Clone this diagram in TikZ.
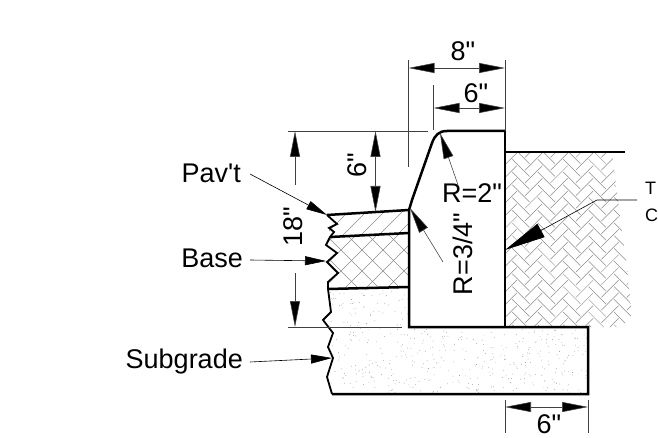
\documentclass[tikz,border=0pt]{standalone}
\usepackage{fontspec}
\setmainfont{Liberation Sans}[Ligatures=TeXOff]
\usetikzlibrary{arrows.meta, positioning, calc}

\tikzset{
  wall/.style={line width=2.5pt, line join=miter},
  thinline/.style={line width=0.55pt, black!75},
  hatchline/.style={line width=0.5pt, black!45},
  dimarrow/.style={thinline, -{Triangle[length=26pt,width=10pt,fill=black]}},
  dimboth/.style={thinline, {Triangle[length=26pt,width=10pt,fill=black]}-{Triangle[length=26pt,width=10pt,fill=black]}},
  leader/.style={line width=0.6pt, -{Triangle[length=21pt,width=9pt,fill=black]}},
  biglabel/.style={inner sep=0pt, font=\fontsize{27}{31}\selectfont},
  smalllabel/.style={inner sep=0pt, anchor=west, font=\fontsize{18}{22}\selectfont}
}

\begin{document}
\begin{tikzpicture}[x=1pt,y=-1pt]
  \useasboundingbox (0,0) rectangle (658,438);

  % curb
  \coordinate (curbtop) at (505,131);
  \coordinate (curbflat) at (447,131);
  \coordinate (curbbend) at (432,143);
  \coordinate (curbtoe) at (409,210);
  \coordinate (curbbase) at (409,327);
  \coordinate (curbright) at (505,327);
  % footing
  \coordinate (footright) at (588,327);
  \coordinate (footlow) at (588,394);
  \coordinate (footleft) at (332,394);
  % ground behind curb
  \coordinate (groundleft) at (505,152);
  \coordinate (groundright) at (625,152);
  % layers
  \coordinate (pavleft) at (327,215);
  \coordinate (pavlow) at (330,237);
  \coordinate (pavlowr) at (409,233);
  \coordinate (baseleft) at (328,289);
  \coordinate (baseright) at (409,287);

  % herringbone soil
  \begin{scope}
    \clip (groundleft) -- (612,152) -- (618,200) -- (626,260) -- (632,315) -- (622,327) -- (curbright) -- cycle;
    \begin{scope}[shift={(505,152)}, rotate=45, x=9pt, y=9pt]
      \foreach \a in {-20,...,20}
        \foreach \b in {-8,...,8}
          \draw[hatchline] ({\a+3*\b-0.85},{\a-\b}) -- ++(2.7,0)
            ({\a+3*\b+2},{\a-\b-1.85}) -- ++(0,2.7);
    \end{scope}
  \end{scope}

  % pavement hatch
  \begin{scope}
    \clip (pavleft) -- (curbtoe) -- (pavlowr) -- (pavlow) -- cycle;
    \foreach \i in {0,...,7}
      \draw[hatchline] ({300+18*\i},260) -- ++(60,-60);
  \end{scope}

  % base hatch
  \begin{scope}
    \clip (pavlow) -- (pavlowr) -- (baseright) -- (baseleft) -- (328,282) -- (338,273) -- (327,262) -- (337,253) -- (326,245) -- cycle;
    \foreach \i in {0,...,8} {
      \draw[hatchline] ({270+21*\i},300) -- ++(70,-70);
      \draw[hatchline] ({300+21*\i},230) -- ++(70,70);
    }
  \end{scope}

  % subgrade stipple
  \begin{scope}
    \clip (baseleft) -- (baseright) -- (curbbase) -- (footright) -- (footlow) -- (footleft) -- (327,377) -- (333,358) -- (328,347) -- (333,333) -- (323,320) -- (331,312) -- cycle;
    \pgfmathsetseed{4711}
    \foreach \i in {1,...,620} {
      \pgfmathsetmacro{\dotx}{325+265*rnd}
      \pgfmathsetmacro{\doty}{288+107*rnd}
      \fill[black!55] (\dotx,\doty) circle (0.35pt);
    }
  \end{scope}

  % thick outlines
  \draw[wall] (curbtop) -- (curbflat) .. controls (439,131) and (435,135) .. (curbbend) -- (412,200) -- (curbtoe) -- (curbbase) -- (footright) -- (footlow) -- (footleft);
  \draw[wall] (curbtop) -- (curbright);
  \draw[wall] (groundleft) -- (groundright);
  \draw[wall] (pavleft) -- (curbtoe);
  \draw[wall] (pavlow) -- (pavlowr);
  \draw[wall] (baseleft) -- (baseright);
  \draw[line width=1.8pt] (pavleft) -- (337,224) -- (329,228) -- (334,232) -- (pavlow) -- (326,245) -- (337,253) -- (327,262) -- (338,273) -- (328,282) -- (baseleft) -- (331,312) -- (323,320) -- (333,333) -- (328,347) -- (333,358) -- (327,377) -- (footleft);

  % extension lines
  \coordinate (eightl) at (408.5,68);
  \coordinate (eightr) at (505,68);
  \coordinate (sixl) at (433.5,108);
  \coordinate (sixr) at (505,108);
  \coordinate (toplevel) at (375.5,131);
  \coordinate (paveline) at (375.5,212);
  \coordinate (eighttop) at (408.5,60);
  \coordinate (eightlow) at (408.5,167);
  \coordinate (righttop) at (505,60);
  \coordinate (sixtop) at (433.5,85);
  \coordinate (sixlow) at (433.5,130);
  \draw[thinline] (eighttop) -- (eightlow);
  \draw[thinline] (righttop) -- (curbtop);
  \draw[thinline] (sixtop) -- (sixlow);
  \draw[thinline] (288,131) -- (428,131);
  \draw[thinline] (288,327) -- (402,327);

  % dimensions
  \draw[dimboth] (eightl) -- (eightr);
  \draw[dimboth] (sixl) -- (sixr);
  \draw[dimboth] (toplevel) -- (paveline);
  \coordinate (eightnup) at (295,131);
  \coordinate (eightnuplo) at (295,185);
  \coordinate (eightnlo) at (295,327);
  \coordinate (eightnloup) at (295,273);
  \draw[dimarrow] (eightnuplo) -- (eightnup);
  \draw[dimarrow] (eightnloup) -- (eightnlo);
  \coordinate (footdiml) at (505,407);
  \coordinate (footdimr) at (588,407);
  \draw[thinline] (505,400) -- (505,433);
  \draw[thinline] (588,400) -- (588,433);
  \draw[dimboth] (footdiml) -- (footdimr);

  \node[biglabel] (eight) at (463,51) {8"};
  \node[biglabel] (sixtoplabel) at (476,93) {6"};
  \node[biglabel, rotate=90] (sixside) at (357,165) {6"};
  \node[biglabel, rotate=90] (eighteen) at (293,227) {18"};
  \node[biglabel] (sixfoot) at (549,424) {6"};

  % radii
  \node[biglabel] (rtwo) at (472,193) {R=2"};
  \node[biglabel, rotate=90] (rthree) at (463,254) {R=3/4"};
  \coordinate (rtwotip) at (440,133);
  \coordinate (rtwotail) at (458,185);
  \coordinate (rthreetip) at (410,208);
  \coordinate (rthreetail) at (443,262);
  \draw[dimarrow] (rtwotail) -- (rtwotip);
  \draw[dimarrow] (rthreetail) -- (rthreetip);

  % labels
  \node[biglabel, anchor=east] (pavt) at (241,173) {Pav't};
  \node[biglabel, anchor=east] (base) at (243,258) {Base};
  \node[biglabel, anchor=east] (subgrade) at (243,362) {Subgrade};
  \coordinate (pavtip) at (327,215);
  \coordinate (basetip) at (326,261);
  \coordinate (subtip) at (332,358);
  \draw[leader] (250,174) -- (pavtip);
  \draw[leader] (250,260) -- (basetip);
  \draw[leader] (250,362) -- (subtip);

  % clipped note on the right
  \node[smalllabel] (notet) at (645,188) {T};
  \node[smalllabel] (notec) at (645,215) {C};
  \coordinate (noteelbow) at (597,200);
  \coordinate (notetip) at (505,250);
  \draw[line width=0.6pt, -{Triangle[length=41pt,width=15pt,fill=black]}] (637,200) -- (noteelbow) -- (notetip);
\end{tikzpicture}
\end{document}
